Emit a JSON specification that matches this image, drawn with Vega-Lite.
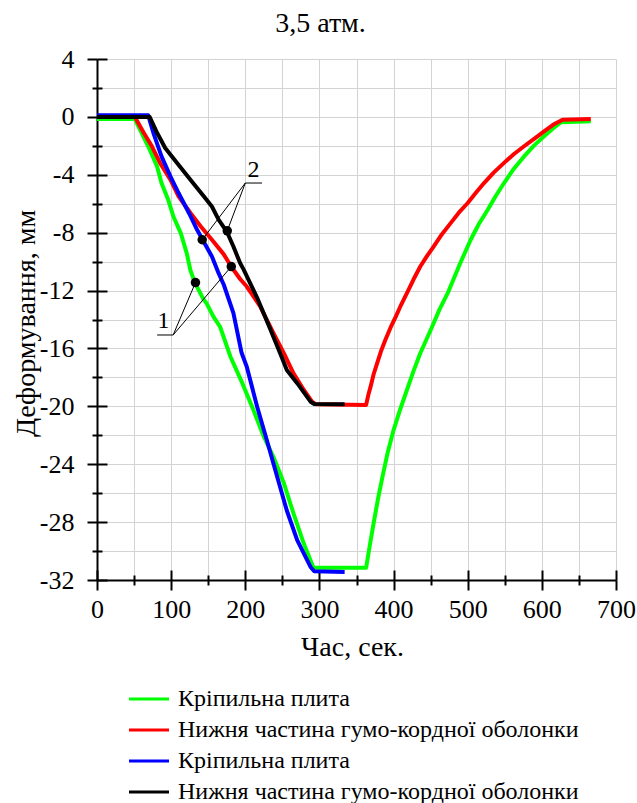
{
  "$schema": "https://vega.github.io/schema/vega-lite/v6.json",
  "width": 519,
  "height": 521,
  "autosize": {"type": "none"},
  "padding": {"left": 97, "top": 59, "right": 21, "bottom": 223},
  "background": "white",
  "config": {
    "font": "Liberation Serif",
    "view": {"stroke": null},
    "title": {"font": "Liberation Serif", "fontSize": 28, "fontWeight": "normal", "color": "black"}
  },
  "title": {
    "text": "3,5 атм.",
    "font": "Liberation Serif",
    "fontSize": 28,
    "fontWeight": "normal",
    "color": "black",
    "anchor": "middle",
    "frame": "group",
    "dx": -36,
    "offset": 8
  },
  "datasets": {
    "lines": [
      {"s": "g", "t": 0, "v": -0.15}, {"s": "g", "t": 51, "v": -0.15}, {"s": "g", "t": 58, "v": -0.88}, {"s": "g", "t": 69, "v": -2.03}, {"s": "g", "t": 81, "v": -3.42}, {"s": "g", "t": 87, "v": -4.57}, {"s": "g", "t": 96, "v": -5.72}, {"s": "g", "t": 103, "v": -6.88}, {"s": "g", "t": 113, "v": -8.03}, {"s": "g", "t": 121, "v": -9.41}, {"s": "g", "t": 126, "v": -10.6}, {"s": "g", "t": 132, "v": -11.45}, {"s": "g", "t": 144, "v": -12.64}, {"s": "g", "t": 148, "v": -12.9}, {"s": "g", "t": 157, "v": -13.8}, {"s": "g", "t": 166, "v": -14.5}, {"s": "g", "t": 180, "v": -16.57}, {"s": "g", "t": 196, "v": -18.4}, {"s": "g", "t": 211, "v": -20.26}, {"s": "g", "t": 225, "v": -22.1}, {"s": "g", "t": 238, "v": -23.5}, {"s": "g", "t": 252, "v": -25.3}, {"s": "g", "t": 265, "v": -27.4}, {"s": "g", "t": 279, "v": -29.5}, {"s": "g", "t": 292, "v": -31.15}, {"s": "g", "t": 363, "v": -31.15}, {"s": "g", "t": 368, "v": -29.6}, {"s": "g", "t": 373, "v": -28.1}, {"s": "g", "t": 379, "v": -26.4}, {"s": "g", "t": 385, "v": -24.87}, {"s": "g", "t": 392, "v": -23.2}, {"s": "g", "t": 400, "v": -21.64}, {"s": "g", "t": 409, "v": -20.2}, {"s": "g", "t": 418, "v": -18.87}, {"s": "g", "t": 427, "v": -17.55}, {"s": "g", "t": 436, "v": -16.33}, {"s": "g", "t": 452, "v": -14.5}, {"s": "g", "t": 462, "v": -13.3}, {"s": "g", "t": 473, "v": -12.18}, {"s": "g", "t": 490, "v": -10.1}, {"s": "g", "t": 504, "v": -8.49}, {"s": "g", "t": 515, "v": -7.4}, {"s": "g", "t": 527, "v": -6.42}, {"s": "g", "t": 538, "v": -5.45}, {"s": "g", "t": 549, "v": -4.57}, {"s": "g", "t": 562, "v": -3.6}, {"s": "g", "t": 576, "v": -2.73}, {"s": "g", "t": 590, "v": -1.95}, {"s": "g", "t": 603, "v": -1.34}, {"s": "g", "t": 615, "v": -0.8}, {"s": "g", "t": 626, "v": -0.37}, {"s": "g", "t": 666, "v": -0.3},
      {"s": "r", "t": 0, "v": 0}, {"s": "r", "t": 51, "v": 0}, {"s": "r", "t": 63, "v": -1.1}, {"s": "r", "t": 74, "v": -2.03}, {"s": "r", "t": 85, "v": -3.18}, {"s": "r", "t": 99, "v": -4.34}, {"s": "r", "t": 110, "v": -5.49}, {"s": "r", "t": 126, "v": -6.64}, {"s": "r", "t": 140, "v": -7.57}, {"s": "r", "t": 155, "v": -8.49}, {"s": "r", "t": 171, "v": -9.5}, {"s": "r", "t": 181, "v": -10.34}, {"s": "r", "t": 193, "v": -11.2}, {"s": "r", "t": 202, "v": -11.72}, {"s": "r", "t": 211, "v": -12.4}, {"s": "r", "t": 220, "v": -13.1}, {"s": "r", "t": 238, "v": -14.95}, {"s": "r", "t": 252, "v": -16.33}, {"s": "r", "t": 265, "v": -17.72}, {"s": "r", "t": 279, "v": -18.87}, {"s": "r", "t": 290, "v": -19.68}, {"s": "r", "t": 295, "v": -19.85}, {"s": "r", "t": 363, "v": -19.9}, {"s": "r", "t": 366, "v": -19.2}, {"s": "r", "t": 369, "v": -18.64}, {"s": "r", "t": 373, "v": -17.8}, {"s": "r", "t": 378, "v": -17.0}, {"s": "r", "t": 383, "v": -16.2}, {"s": "r", "t": 389, "v": -15.4}, {"s": "r", "t": 396, "v": -14.55}, {"s": "r", "t": 403, "v": -13.8}, {"s": "r", "t": 410, "v": -13.0}, {"s": "r", "t": 418, "v": -12.18}, {"s": "r", "t": 427, "v": -11.22}, {"s": "r", "t": 436, "v": -10.34}, {"s": "r", "t": 445, "v": -9.62}, {"s": "r", "t": 454, "v": -8.96}, {"s": "r", "t": 465, "v": -8.12}, {"s": "r", "t": 477, "v": -7.34}, {"s": "r", "t": 488, "v": -6.62}, {"s": "r", "t": 500, "v": -5.95}, {"s": "r", "t": 511, "v": -5.24}, {"s": "r", "t": 522, "v": -4.57}, {"s": "r", "t": 535, "v": -3.85}, {"s": "r", "t": 549, "v": -3.18}, {"s": "r", "t": 562, "v": -2.58}, {"s": "r", "t": 576, "v": -2.03}, {"s": "r", "t": 590, "v": -1.5}, {"s": "r", "t": 603, "v": -1.0}, {"s": "r", "t": 615, "v": -0.55}, {"s": "r", "t": 628, "v": -0.19}, {"s": "r", "t": 666, "v": -0.14},
      {"s": "b", "t": 0, "v": 0.12}, {"s": "b", "t": 69, "v": 0.12}, {"s": "b", "t": 76, "v": -1.1}, {"s": "b", "t": 87, "v": -2.73}, {"s": "b", "t": 99, "v": -4.11}, {"s": "b", "t": 110, "v": -5.26}, {"s": "b", "t": 124, "v": -6.64}, {"s": "b", "t": 135, "v": -7.8}, {"s": "b", "t": 143, "v": -8.54}, {"s": "b", "t": 155, "v": -9.65}, {"s": "b", "t": 164, "v": -10.8}, {"s": "b", "t": 171, "v": -11.6}, {"s": "b", "t": 184, "v": -13.56}, {"s": "b", "t": 195, "v": -16.3}, {"s": "b", "t": 202, "v": -17.26}, {"s": "b", "t": 216, "v": -20.03}, {"s": "b", "t": 229, "v": -22.33}, {"s": "b", "t": 243, "v": -24.87}, {"s": "b", "t": 256, "v": -27.2}, {"s": "b", "t": 270, "v": -29.25}, {"s": "b", "t": 288, "v": -31.1}, {"s": "b", "t": 293, "v": -31.4}, {"s": "b", "t": 334, "v": -31.45},
      {"s": "k", "t": 0, "v": 0}, {"s": "k", "t": 71, "v": 0}, {"s": "k", "t": 81, "v": -1.1}, {"s": "k", "t": 92, "v": -2.15}, {"s": "k", "t": 108, "v": -3.18}, {"s": "k", "t": 126, "v": -4.34}, {"s": "k", "t": 144, "v": -5.49}, {"s": "k", "t": 155, "v": -6.19}, {"s": "k", "t": 164, "v": -7.1}, {"s": "k", "t": 175, "v": -7.92}, {"s": "k", "t": 184, "v": -8.96}, {"s": "k", "t": 193, "v": -10.1}, {"s": "k", "t": 198, "v": -10.57}, {"s": "k", "t": 216, "v": -12.5}, {"s": "k", "t": 234, "v": -14.7}, {"s": "k", "t": 247, "v": -16.33}, {"s": "k", "t": 256, "v": -17.49}, {"s": "k", "t": 270, "v": -18.4}, {"s": "k", "t": 288, "v": -19.68}, {"s": "k", "t": 293, "v": -19.84}, {"s": "k", "t": 334, "v": -19.85}
    ],
    "dots": [
      {"t": 132.8, "v": -11.45}, {"t": 181.1, "v": -10.34}, {"t": 141.9, "v": -8.49}, {"t": 175.7, "v": -7.87}
    ],
    "leaders": [
      {"t": 81.1, "v": -15.07, "t2": 102.7, "v2": -15.07},
      {"t": 102.7, "v": -15.07, "t2": 132.8, "v2": -11.45},
      {"t": 102.7, "v": -15.07, "t2": 181.1, "v2": -10.34},
      {"t": 200, "v": -4.57, "t2": 222.6, "v2": -4.57},
      {"t": 200, "v": -4.57, "t2": 141.9, "v2": -8.49},
      {"t": 200, "v": -4.57, "t2": 175.7, "v2": -7.87}
    ],
    "labels": [
      {"t": 89.6, "v": -14.6, "txt": "1"},
      {"t": 211.2, "v": -4.15, "txt": "2"}
    ]
  },
  "resolve": {"axis": {"x": "independent", "y": "independent"}},
  "layer": [
    {
      "data": {"name": "lines"},
      "mark": {"type": "line", "strokeWidth": 4, "strokeJoin": "round"},
      "encoding": {
        "x": {
          "field": "t", "type": "quantitative",
          "scale": {"domain": [0, 700], "nice": false, "zero": false},
          "axis": {
            "orient": "bottom",
            "title": "Час, сек.",
            "titleFont": "Liberation Serif", "titleFontSize": 28, "titleFontWeight": "normal", "titleColor": "black",
            "titleX": 255, "titleY": 75, "titleBaseline": "alphabetic", "titleAlign": "center",
            "values": [0, 50, 100, 150, 200, 250, 300, 350, 400, 450, 500, 550, 600, 650, 700],
            "labelExpr": "datum.value % 100 === 0 ? '' + datum.value : ''",
            "labelFont": "Liberation Serif", "labelFontSize": 26, "labelColor": "black", "labelPadding": 6,
            "labelFlush": false, "labelOverlap": false,
            "tickSize": {"condition": {"test": "datum.value % 100 === 0", "value": 10}, "value": 5},
            "tickColor": "black", "tickWidth": 2,
            "domainColor": "black", "domainWidth": 2,
            "grid": true, "gridColor": "#d3d3d3", "gridWidth": 1
          }
        },
        "y": {
          "field": "v", "type": "quantitative",
          "scale": {"domain": [-32, 4], "nice": false, "zero": false},
          "axis": {
            "orient": "left",
            "title": "Деформування, мм",
            "titleFont": "Liberation Serif", "titleFontSize": 28, "titleFontWeight": "normal", "titleColor": "black",
            "titleX": -71, "titleY": 264, "titleBaseline": "middle", "titleAlign": "center", "titleAngle": -90,
            "values": [-32, -30, -28, -26, -24, -22, -20, -18, -16, -14, -12, -10, -8, -6, -4, -2, 0, 2, 4],
            "labelExpr": "datum.value % 4 === 0 ? '' + datum.value : ''",
            "labelFont": "Liberation Serif", "labelFontSize": 26, "labelColor": "black", "labelPadding": 13,
            "labelFlush": false, "labelOverlap": false,
            "tickSize": {"condition": {"test": "datum.value % 4 === 0", "value": 10}, "value": 5},
            "tickColor": "black", "tickWidth": 2,
            "domainColor": "black", "domainWidth": 2,
            "grid": true, "gridColor": "#d3d3d3", "gridWidth": 1
          }
        },
        "color": {
          "field": "s", "type": "nominal",
          "scale": {"domain": ["g", "r", "b", "k"], "range": ["#00ff00", "#ff0000", "#0000ff", "#000000"]},
          "legend": {
            "orient": "none", "legendX": 40, "legendY": 628,
            "title": null, "direction": "vertical",
            "symbolType": "M-2,0H2", "symbolSize": 400, "symbolStrokeWidth": 3,
            "labelExpr": "datum.value === 'g' || datum.value === 'b' ? 'Кріпильна плита' : 'Нижня частина гумо-кордної оболонки'",
            "labelFont": "Liberation Serif", "labelFontSize": 24, "labelColor": "black", "labelLimit": 600,
            "labelOffset": 17, "rowPadding": 7
          }
        }
      }
    },
    {
      "data": {"name": "leaders"},
      "mark": {"type": "rule", "color": "black", "strokeWidth": 1},
      "encoding": {
        "x": {"field": "t", "type": "quantitative", "axis": null},
        "y": {"field": "v", "type": "quantitative", "axis": null},
        "x2": {"field": "t2"},
        "y2": {"field": "v2"}
      }
    },
    {
      "data": {"name": "dots"},
      "mark": {"type": "circle", "color": "black", "opacity": 1, "size": 90},
      "encoding": {
        "x": {
          "field": "t", "type": "quantitative",
          "axis": {
            "orient": "bottom", "title": null, "labels": false, "domain": false, "grid": false,
            "values": [0, 50, 100, 150, 200, 250, 300, 350, 400, 450, 500, 550, 600, 650, 700],
            "tickSize": {"condition": {"test": "datum.value % 100 === 0", "value": -10}, "value": -5},
            "tickColor": "black", "tickWidth": 2
          }
        },
        "y": {
          "field": "v", "type": "quantitative",
          "axis": {
            "orient": "left", "title": null, "labels": false, "domain": false, "grid": false,
            "values": [-32, -30, -28, -26, -24, -22, -20, -18, -16, -14, -12, -10, -8, -6, -4, -2, 0, 2, 4],
            "tickSize": {"condition": {"test": "datum.value % 4 === 0", "value": -10}, "value": -5},
            "tickColor": "black", "tickWidth": 2
          }
        }
      }
    },
    {
      "data": {"name": "labels"},
      "mark": {"type": "text", "font": "Liberation Serif", "fontSize": 24, "color": "black", "baseline": "alphabetic", "align": "center"},
      "encoding": {
        "x": {"field": "t", "type": "quantitative", "axis": null},
        "y": {"field": "v", "type": "quantitative", "axis": null},
        "text": {"field": "txt"}
      }
    }
  ]
}
